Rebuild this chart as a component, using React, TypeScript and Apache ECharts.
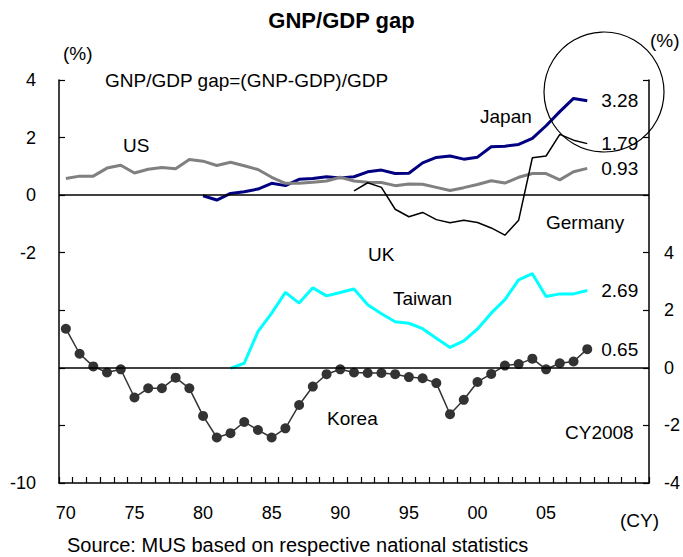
import React, { useEffect, useRef } from "react";
import * as echarts from "echarts";

const years: string[] = [];
for (let y = 1970; y <= 2012; y++) years.push(String(y));

// Upper panel (left axis)
const usData = [0.58, 0.66, 0.66, 0.94, 1.04, 0.77, 0.9, 0.96, 0.92, 1.24, 1.18, 1.03, 1.14, 1.02, 0.89, 0.62, 0.41, 0.41, 0.45, 0.49, 0.62, 0.49, 0.45, 0.44, 0.33, 0.39, 0.38, 0.27, 0.16, 0.26, 0.37, 0.5, 0.42, 0.62, 0.75, 0.75, 0.53, 0.81, 0.93];
const japanData = [null, null, null, null, null, null, null, null, null, null, -0.02, -0.17, 0.06, 0.12, 0.21, 0.41, 0.33, 0.55, 0.58, 0.64, 0.6, 0.64, 0.81, 0.87, 0.75, 0.76, 1.12, 1.31, 1.36, 1.25, 1.32, 1.68, 1.7, 1.76, 1.97, 2.41, 2.9, 3.36, 3.28];
const germanyData = [null, null, null, null, null, null, null, null, null, null, null, null, null, null, null, null, null, null, null, null, null, 0.15, 0.43, 0.27, -0.49, -0.75, -0.6, -0.85, -0.96, -0.87, -0.95, -1.14, -1.39, -0.87, 1.3, 1.36, 2.11, 1.91, 1.79];

// Lower panel (right axis)
const taiwanData = [null, null, null, null, null, null, null, null, null, null, null, null, -0.02, 0.16, 1.26, 1.9, 2.62, 2.25, 2.78, 2.5, 2.62, 2.74, 2.19, 1.88, 1.6, 1.55, 1.36, 1.03, 0.71, 0.94, 1.35, 1.9, 2.37, 3.06, 3.27, 2.48, 2.57, 2.57, 2.69];
const koreaData = [1.36, 0.49, 0.05, -0.16, -0.05, -1.03, -0.71, -0.71, -0.34, -0.71, -1.67, -2.42, -2.27, -1.88, -2.16, -2.42, -2.1, -1.29, -0.65, -0.22, -0.05, -0.16, -0.18, -0.18, -0.22, -0.32, -0.36, -0.53, -1.61, -1.11, -0.49, -0.21, 0.08, 0.13, 0.32, -0.05, 0.16, 0.22, 0.65];

const FONT = '"Liberation Sans", Arial, sans-serif';

function endLabel(text: string) {
  return {
    show: true,
    distance: 14,
    formatter: text,
    color: "#000",
    fontSize: 19,
    fontFamily: FONT,
  };
}

function txt(text: string, x: number, y: number, extra: any = {}) {
  return {
    type: "text",
    x,
    y,
    z: 50,
    style: {
      text,
      fill: "#000",
      font: `${extra.size || 19}px ${FONT}`,
      align: extra.align || "left",
      verticalAlign: "middle",
    },
  };
}

export default function App() {
  const ref = useRef<HTMLDivElement>(null);
  useEffect(() => {
    document.body.style.margin = "0";
    if (!ref.current) return;
    const chart = echarts.init(ref.current, null, { renderer: "svg" });
    chart.setOption({
      animation: false,
      backgroundColor: "#fff",
      title: {
        text: "GNP/GDP gap",
        left: "center",
        top: 4,
        textStyle: { fontSize: 22, fontWeight: "bold", fontFamily: FONT, color: "#000" },
      },
      grid: { left: 59, right: 26, top: 80, bottom: 74, containLabel: false },
      xAxis: {
        type: "category",
        data: years,
        boundaryGap: true,
        axisLine: { onZero: false, lineStyle: { color: "#000", width: 1.5 } },
        axisTick: { show: true, inside: true, interval: 0, length: 6, lineStyle: { color: "#000", width: 1.2 } },
        axisLabel: {
          interval: 0,
          margin: 21,
          color: "#000",
          fontSize: 18,
          fontFamily: FONT,
          formatter: (v: string) => {
            const y = Number(v);
            return y % 5 === 0 && y <= 2005 ? v.slice(2) : "";
          },
        },
        splitLine: { show: false },
      },
      yAxis: [
        {
          type: "value",
          min: -10,
          max: 4,
          interval: 2,
          position: "left",
          axisLine: { show: true, lineStyle: { color: "#000", width: 1.5 } },
          axisTick: { show: true, inside: true, length: 6, lineStyle: { color: "#000", width: 1.2 } },
          axisLabel: {
            margin: 23,
            color: "#000",
            fontSize: 18,
            fontFamily: FONT,
            formatter: (v: number) => (v >= -2 || v === -10 ? String(v) : ""),
          },
          splitLine: { show: false },
        },
        {
          type: "value",
          min: -4,
          max: 10,
          interval: 2,
          position: "right",
          axisLine: { show: true, lineStyle: { color: "#000", width: 1.5 } },
          axisTick: { show: true, inside: true, length: 6, lineStyle: { color: "#000", width: 1.2 } },
          axisLabel: {
            margin: 15,
            color: "#000",
            fontSize: 18,
            fontFamily: FONT,
            formatter: (v: number) => (v <= 4 ? String(v) : ""),
          },
          splitLine: { show: false },
        },
      ],
      series: [
        {
          name: "Taiwan",
          type: "line",
          yAxisIndex: 1,
          data: taiwanData,
          symbol: "none",
          lineStyle: { color: "#00FFFF", width: 3 },
          itemStyle: { color: "#00FFFF" },
          endLabel: endLabel("2.69"),
        },
        {
          name: "Korea",
          type: "line",
          yAxisIndex: 1,
          data: koreaData,
          symbol: "circle",
          symbolSize: 10,
          showSymbol: true,
          lineStyle: { color: "#333", width: 1.5 },
          itemStyle: { color: "#333" },
          endLabel: endLabel("0.65"),
          markLine: {
            silent: true,
            symbol: "none",
            label: { show: false },
            lineStyle: { color: "#000", width: 1.5, type: "solid" },
            data: [{ yAxis: 0 }],
          },
        },
        {
          name: "Japan",
          type: "line",
          yAxisIndex: 0,
          data: japanData,
          symbol: "none",
          lineStyle: { color: "#000080", width: 3 },
          itemStyle: { color: "#000080" },
          endLabel: endLabel("3.28"),
          markLine: {
            silent: true,
            symbol: "none",
            label: { show: false },
            lineStyle: { color: "#000", width: 1.5, type: "solid" },
            data: [{ yAxis: 0 }],
          },
        },
        {
          name: "US",
          type: "line",
          yAxisIndex: 0,
          data: usData,
          symbol: "none",
          lineStyle: { color: "#808080", width: 3 },
          itemStyle: { color: "#808080" },
          endLabel: endLabel("0.93"),
        },
        {
          name: "Germany",
          type: "line",
          yAxisIndex: 0,
          data: germanyData,
          symbol: "none",
          lineStyle: { color: "#000", width: 1.5 },
          itemStyle: { color: "#000" },
          endLabel: endLabel("1.79"),
        },
      ],
      graphic: [
        txt("(%)", 63, 53),
        txt("(%)", 650, 40),
        txt("GNP/GDP gap=(GNP-GDP)/GDP", 105, 80),
        txt("US", 123, 145),
        txt("Japan", 480, 116),
        txt("Germany", 546, 222),
        txt("UK", 368, 254),
        txt("Taiwan", 393, 298),
        txt("Korea", 327, 418),
        txt("CY2008", 565, 432),
        txt("(CY)", 620, 520),
        txt("Source: MUS based on respective national statistics", 67, 545, { size: 20 }),
        {
          type: "circle",
          z: 60,
          shape: { cx: 604, cy: 92, r: 60 },
          style: { fill: "none", stroke: "#000", lineWidth: 1.2 },
        },
      ],
    });
    return () => chart.dispose();
  }, []);
  return <div ref={ref} style={{ width: 683, height: 557 }} />;
}
